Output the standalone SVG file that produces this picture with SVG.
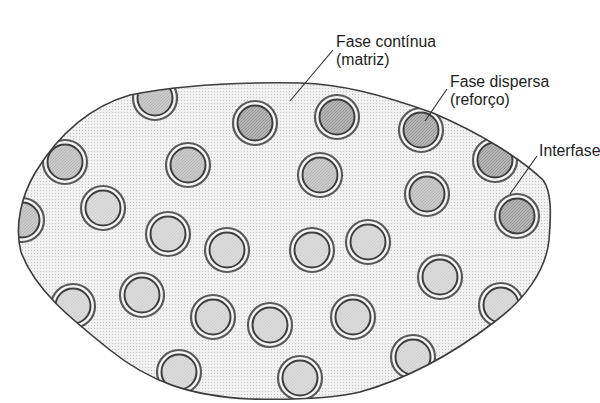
<svg xmlns="http://www.w3.org/2000/svg" width="600" height="403" viewBox="0 0 600 403">
  <defs>
    <pattern id="dots" width="3" height="3" patternUnits="userSpaceOnUse">
      <rect width="3" height="3" fill="#f1f1f1"/>
      <rect x="1" y="1" width="1" height="1" fill="#c4c4c4"/>
    </pattern>
    <pattern id="hatchD" width="3" height="3" patternUnits="userSpaceOnUse">
      <rect width="3" height="3" fill="#b6b6b6"/>
      <path d="M0 3 L3 0" stroke="#8e8e8e" stroke-width="0.8"/>
    </pattern>
    <pattern id="hatchM" width="3" height="3" patternUnits="userSpaceOnUse">
      <rect width="3" height="3" fill="#cbcbcb"/>
      <path d="M0 3 L3 0" stroke="#adadad" stroke-width="0.7"/>
    </pattern>
    <pattern id="hatchL" width="3" height="3" patternUnits="userSpaceOnUse">
      <rect width="3" height="3" fill="#dcdcdc"/>
      <path d="M0 3 L3 0" stroke="#c6c6c6" stroke-width="0.6"/>
    </pattern>
    <path id="outlineShape" d="M 130 95 C 180 85, 240 82, 300 83 C 340 84, 380 94, 433 113 C 480 133, 520 158, 543 180 C 552 192, 551 215, 549 240 C 546 270, 525 300, 493 323 C 455 352, 410 378, 360 392 C 330 399, 290 400, 250 399 C 190 396, 150 382, 110 350 C 70 318, 35 290, 21 252 C 14 225, 22 195, 35 173 C 55 140, 85 108, 130 95 Z"/>
    <clipPath id="clip">
      <use href="#outlineShape"/>
    </clipPath>
    <g id="pd">
      <circle r="22" fill="#f8f8f8" stroke="#5a5a5a" stroke-width="2.2"/>
      <circle r="17.5" fill="url(#hatchD)" stroke="#3e3e3e" stroke-width="2"/>
    </g>
    <g id="pm">
      <circle r="22" fill="#f8f8f8" stroke="#5a5a5a" stroke-width="2.2"/>
      <circle r="17.5" fill="url(#hatchM)" stroke="#3e3e3e" stroke-width="2"/>
    </g>
    <g id="pl">
      <circle r="22" fill="#f8f8f8" stroke="#5a5a5a" stroke-width="2.2"/>
      <circle r="17.5" fill="url(#hatchL)" stroke="#3e3e3e" stroke-width="2"/>
    </g>
  </defs>
  <style>
    .lbl { font-family: "Liberation Sans", Arial, sans-serif; font-size: 15.8px; fill: #1e1e1e; }
    .lead { stroke: #2a2a2a; stroke-width: 1.1; fill: none; }
  </style>

  <rect width="600" height="403" fill="#ffffff"/>

  <g id="matrix">
    <use href="#outlineShape" fill="url(#dots)"/>
  </g>

  <g id="particles" clip-path="url(#clip)">
    <use href="#pm" x="155" y="98"/>
    <use href="#pd" x="255" y="123"/>
    <use href="#pd" x="337" y="117"/>
    <use href="#pd" x="421" y="130"/>
    <use href="#pd" x="495" y="160"/>
    <use href="#pm" x="65" y="162"/>
    <use href="#pm" x="188" y="165"/>
    <use href="#pm" x="320" y="175"/>
    <use href="#pm" x="427" y="194"/>
    <use href="#pd" x="517" y="216"/>
    <use href="#pl" x="103" y="208"/>
    <use href="#pm" x="22" y="220"/>
    <use href="#pl" x="168" y="234"/>
    <use href="#pl" x="227" y="250"/>
    <use href="#pl" x="312" y="250"/>
    <use href="#pl" x="368" y="242"/>
    <use href="#pl" x="440" y="277"/>
    <use href="#pl" x="142" y="295"/>
    <use href="#pl" x="73" y="306"/>
    <use href="#pl" x="213" y="317"/>
    <use href="#pl" x="270" y="325"/>
    <use href="#pl" x="353" y="317"/>
    <use href="#pl" x="501" y="305"/>
    <use href="#pl" x="179" y="372"/>
    <use href="#pl" x="413" y="357"/>
    <use href="#pl" x="300" y="378"/>
  </g>

  <g id="outline">
    <use href="#outlineShape" fill="none" stroke="#3c3c3c" stroke-width="1.6"/>
  </g>

  <g id="connectors">
    <line class="lead" x1="333" y1="50" x2="290" y2="101"/>
    <line class="lead" x1="447" y1="89" x2="425" y2="121"/>
    <line class="lead" x1="537" y1="156" x2="510" y2="194"/>
  </g>

  <g id="label-matriz">
    <text class="lbl" x="336" y="47">Fase contínua</text>
    <text class="lbl" x="336" y="65">(matriz)</text>
  </g>
  <g id="label-reforco">
    <text class="lbl" x="450" y="87">Fase dispersa</text>
    <text class="lbl" x="450" y="105">(reforço)</text>
  </g>
  <g id="label-interfase">
    <text class="lbl" x="539" y="156">Interfase</text>
  </g>
</svg>
